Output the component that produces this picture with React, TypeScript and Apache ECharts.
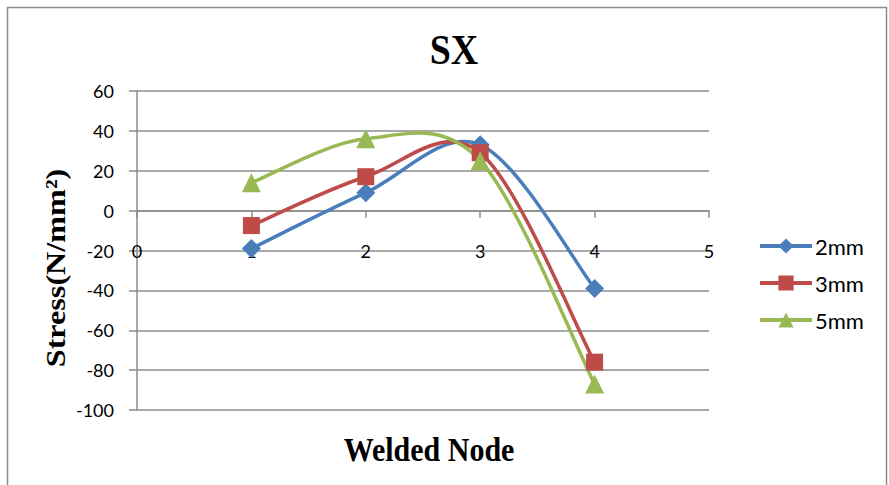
import React, { useEffect, useRef } from "react";
import * as echarts from "echarts";

const nodes = [1, 2, 3, 4];
const seriesNames = ["2mm", "3mm", "5mm"];
const stress2mm = [-19, 9, 33, -39];
const stress3mm = [-7.5, 17, 29, -76];
const stress5mm = [14, 36, 25, -87];
const seriesColors = ["#4A7EBB", "#BE4B48", "#98B954"];
const seriesSymbols = ["diamond", "rect", "triangle"];

const GRID_LEFT = 137;
const GRID_TOP = 91;
const GRID_BOTTOM_Y = 410;
const Y_MIN = -100;
const Y_MAX = 60;

export default function App() {
  const ref = useRef<HTMLDivElement>(null);

  useEffect(() => {
    if (!ref.current) return;
    const chart = echarts.init(ref.current, undefined, { renderer: "svg" });
    const values = [stress2mm, stress3mm, stress5mm];
    const symbolSizes = [19, 17, 19];
    // pixel offset that lifts the x axis onto the y = 0 line
    const zeroLift =
      ((0 - Y_MIN) / (Y_MAX - Y_MIN)) * (GRID_BOTTOM_Y - GRID_TOP);

    const boldSerif = {
      fontFamily: "Liberation Serif",
      fontWeight: "bold" as const,
      fill: "#000",
      align: "center" as const,
      verticalAlign: "middle" as const,
    };

    // Cardinal (Catmull-Rom) spline segment between point j and j+1, drawn in pixel space
    const splineSeries = (i: number) => {
      const vals = values[i];
      return {
        type: "custom",
        coordinateSystem: "cartesian2d",
        silent: true,
        data: nodes.map((n, j) => [n, vals[j]]),
        encode: { x: 0, y: 1 },
        renderItem: (params: any, api: any) => {
          const j = params.dataIndex;
          if (j >= vals.length - 1) return { type: "group", children: [] };
          const k = (idx: number) => Math.max(0, Math.min(vals.length - 1, idx));
          const pt = (idx: number) => api.coord([nodes[k(idx)], vals[k(idx)]]);
          const p0 = pt(j - 1);
          const p1 = pt(j);
          const p2 = pt(j + 1);
          const p3 = pt(j + 2);
          return {
            type: "bezierCurve",
            shape: {
              x1: p1[0],
              y1: p1[1],
              cpx1: p1[0] + (p2[0] - p0[0]) / 6,
              cpy1: p1[1] + (p2[1] - p0[1]) / 6,
              cpx2: p2[0] - (p3[0] - p1[0]) / 6,
              cpy2: p2[1] - (p3[1] - p1[1]) / 6,
              x2: p2[0],
              y2: p2[1],
            },
            style: {
              fill: "none",
              stroke: seriesColors[i],
              lineWidth: 3.5,
              lineCap: "round",
            },
          };
        },
      };
    };

    const markerSeries = (i: number) => ({
      name: seriesNames[i],
      type: "line",
      data: nodes.map((n, j) => [n, values[i][j]]),
      symbol: seriesSymbols[i],
      symbolSize: symbolSizes[i],
      lineStyle: { color: seriesColors[i], width: 3.5, opacity: 0 },
      itemStyle: { color: seriesColors[i] },
    });

    const series: any[] = [];
    seriesNames.forEach((_, i) => {
      series.push(splineSeries(i));
      series.push(markerSeries(i));
    });

    chart.setOption({
      animation: false,
      backgroundColor: "#ffffff",
      graphic: [
        {
          type: "rect",
          shape: { x: 7.5, y: 7.5, width: 879, height: 490 },
          style: { fill: "none", stroke: "#8c8c8c", lineWidth: 1.5 },
          silent: true,
        },
        {
          type: "text",
          x: 454,
          y: 50,
          scaleY: 1.12,
          style: { ...boldSerif, text: "SX", fontSize: 38 },
        },
        {
          type: "text",
          x: 429,
          y: 449,
          scaleY: 1.15,
          style: { ...boldSerif, text: "Welded Node", fontSize: 30 },
        },
        {
          type: "text",
          x: 56,
          y: 268,
          rotation: Math.PI / 2,
          scaleX: 1.15,
          style: { ...boldSerif, text: "Stress(N/mm²)", fontSize: 28 },
        },
      ],
      legend: {
        orient: "vertical",
        left: 753,
        top: 230,
        itemWidth: 52,
        itemHeight: 19,
        itemGap: 15,
        data: seriesNames,
        lineStyle: { width: 4, opacity: 1 },
        textStyle: { fontFamily: "Lato", fontSize: 22, color: "#000", padding: [0, 0, 0, -2] },
      },
      grid: {
        left: GRID_LEFT,
        right: 180,
        top: GRID_TOP,
        bottom: 485 - GRID_BOTTOM_Y,
        containLabel: false,
        outerBoundsMode: "none",
      },
      xAxis: {
        type: "value",
        min: 0,
        max: 5,
        interval: 1,
        position: "bottom",
        offset: -zeroLift,
        axisLine: { onZero: false, lineStyle: { color: "#8c8c8c", width: 1.5 } },
        axisTick: { show: true, length: 7, lineStyle: { color: "#8c8c8c", width: 1.5 } },
        axisLabel: {
          margin: 31,
          fontFamily: "Lato",
          fontSize: 18,
          color: "#000",
        },
        splitLine: { show: false },
      },
      yAxis: {
        type: "value",
        min: Y_MIN,
        max: Y_MAX,
        interval: 20,
        axisLine: { show: true, lineStyle: { color: "#8c8c8c", width: 1.5 } },
        axisTick: { show: true, length: 8, lineStyle: { color: "#8c8c8c", width: 1.5 } },
        axisLabel: {
          margin: 23,
          fontFamily: "Lato",
          fontSize: 18,
          color: "#000",
        },
        splitLine: { show: true, lineStyle: { color: "#8c8c8c", width: 1.5 } },
      },
      series,
    });

    return () => chart.dispose();
  }, []);

  return (
    <div
      ref={ref}
      style={{ position: "fixed", left: 0, top: 0, width: 889, height: 485 }}
    />
  );
}
